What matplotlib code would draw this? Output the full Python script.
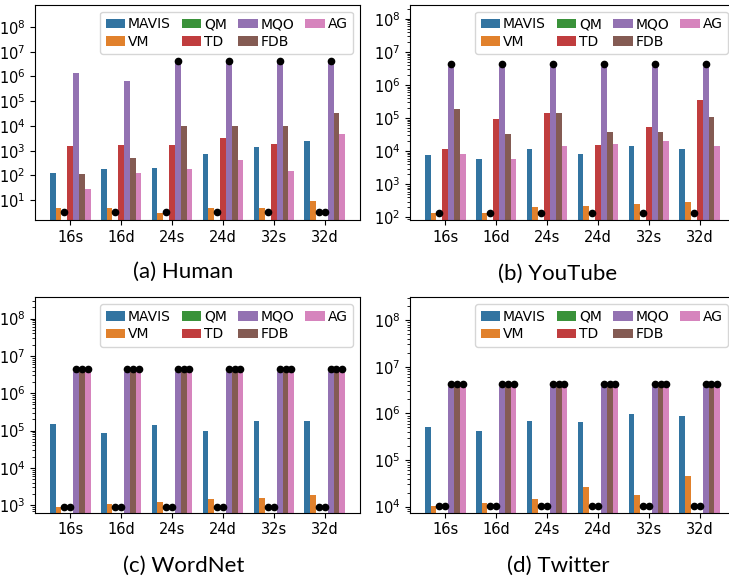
import numpy as np
import matplotlib.pyplot as plt

TO = 3.6e6  # timeout (1 h in ms), bars capped here and marked with a dot

methods = ['MAVIS', 'VM', 'QM', 'TD', 'MQO', 'FDB', 'AG']
colors = ['#3274a1', '#e1812c', '#3a923a', '#c03d3e', '#9372b2', '#845b53', '#d684bd']
queries = ['16s', '16d', '24s', '24d', '32s', '32d']

# rows follow `methods`, None = run failed
human = [
    [125, 175, 195, 730, 1400, 2400],
    [5.0, 5.0, 3.0, 5.0, 5.0, 9.5],
    [None, None, None, None, None, None],
    [1550, 1700, 1700, 3200, 1850, None],
    [1.35e6, 6.3e5, TO, TO, TO, TO],
    [115, 520, 1.0e4, 1.0e4, 1.0e4, 3.2e4],
    [28, 125, 180, 420, 150, 4800],
]
youtube = [
    [7500, 6000, 11500, 8000, 14000, 11500],
    [140, 140, 210, 225, 260, 300],
    [None, None, None, None, None, None],
    [11500, 95000, 140000, 15000, 53000, 350000],
    [TO, TO, TO, TO, TO, TO],
    [190000, 33000, 140000, 37000, 37000, 105000],
    [8500, 6000, 14000, 16000, 20000, 14000],
]
wordnet = [
    [150000, 85000, 140000, 100000, 180000, 180000],
    [900, 1100, 1250, 1500, 1600, 1900],
    [None, None, None, None, None, None],
    [None, None, None, None, None, None],
    [TO, TO, TO, TO, TO, TO],
    [TO, TO, TO, TO, TO, TO],
    [TO, TO, TO, TO, TO, TO],
]
twitter = [
    [500000, 410000, 700000, 640000, 950000, 860000],
    [10300, 11800, 14500, 26000, 17500, 45000],
    [None, None, None, None, None, None],
    [None, None, None, None, None, None],
    [TO, TO, TO, TO, TO, TO],
    [TO, TO, TO, TO, TO, TO],
    [TO, TO, TO, TO, TO, TO],
]

# data, caption, log10 y-range, y of the dot for failed runs
panels = [
    (human, '(a) Human', (0.2, 8.9), 3.3),
    (youtube, '(b) YouTube', (1.92, 8.43), 138),
    (wordnet, '(c) WordNet', (2.8, 8.57), 900),
    (twitter, '(d) Twitter', (3.87, 8.49), 1.02e4),
]

# axes rectangles in figure fraction
rects = [
    [0.048, 0.6226, 0.4458, 0.3693],
    [0.5624, 0.6226, 0.4458, 0.3693],
    [0.048, 0.1206, 0.4458, 0.3695],
    [0.5624, 0.1206, 0.4458, 0.3695],
]
captions_xy = [(183, 272), (558, 274), (184, 566), (558, 566)]


def draw(ax, data, ylog, fail_y):
    w = 0.8 / len(methods)
    x = np.arange(len(queries))
    ax.set_yscale('log')
    for k, (name, vals) in enumerate(zip(methods, data)):
        v = np.array([np.nan if a is None else a for a in vals], dtype=float)
        pos = x + (k - 3) * w
        ax.bar(pos, v, w, color=colors[k], label=name)
        hit = v >= TO
        ax.plot(pos[hit], v[hit] * 1.2, 'o', color='k', ms=4.5, zorder=3)
        miss = np.isnan(v)
        ax.plot(pos[miss], np.full(miss.sum(), fail_y), 'o', color='k', ms=4.5, zorder=3)
    ax.set_xticks(x)
    ax.set_xticklabels(queries)
    lo, hi = ylog
    ax.set_yticks([10.0**k for k in range(int(np.ceil(lo)), int(np.floor(hi)) + 1)])
    ax.set_ylim(10**lo, 10**hi)
    ax.tick_params(labelsize=10.5)
    ax.legend(ncol=4, loc='upper right', fontsize=10, handlelength=1.4,
              handletextpad=0.2, columnspacing=0.8, labelspacing=0.25)


fig = plt.figure(figsize=(7.29, 5.83), dpi=100)
for (data, cap, ylog, fail_y), rect, (cx, cy) in zip(panels, rects, captions_xy):
    ax = fig.add_axes(rect)
    draw(ax, data, ylog, fail_y)
    fig.text(cx / 729, 1 - cy / 583, cap, ha='center', va='center',
             family='Lato', fontsize=16)

fig.savefig('out.png', dpi=100)
plt.close()
